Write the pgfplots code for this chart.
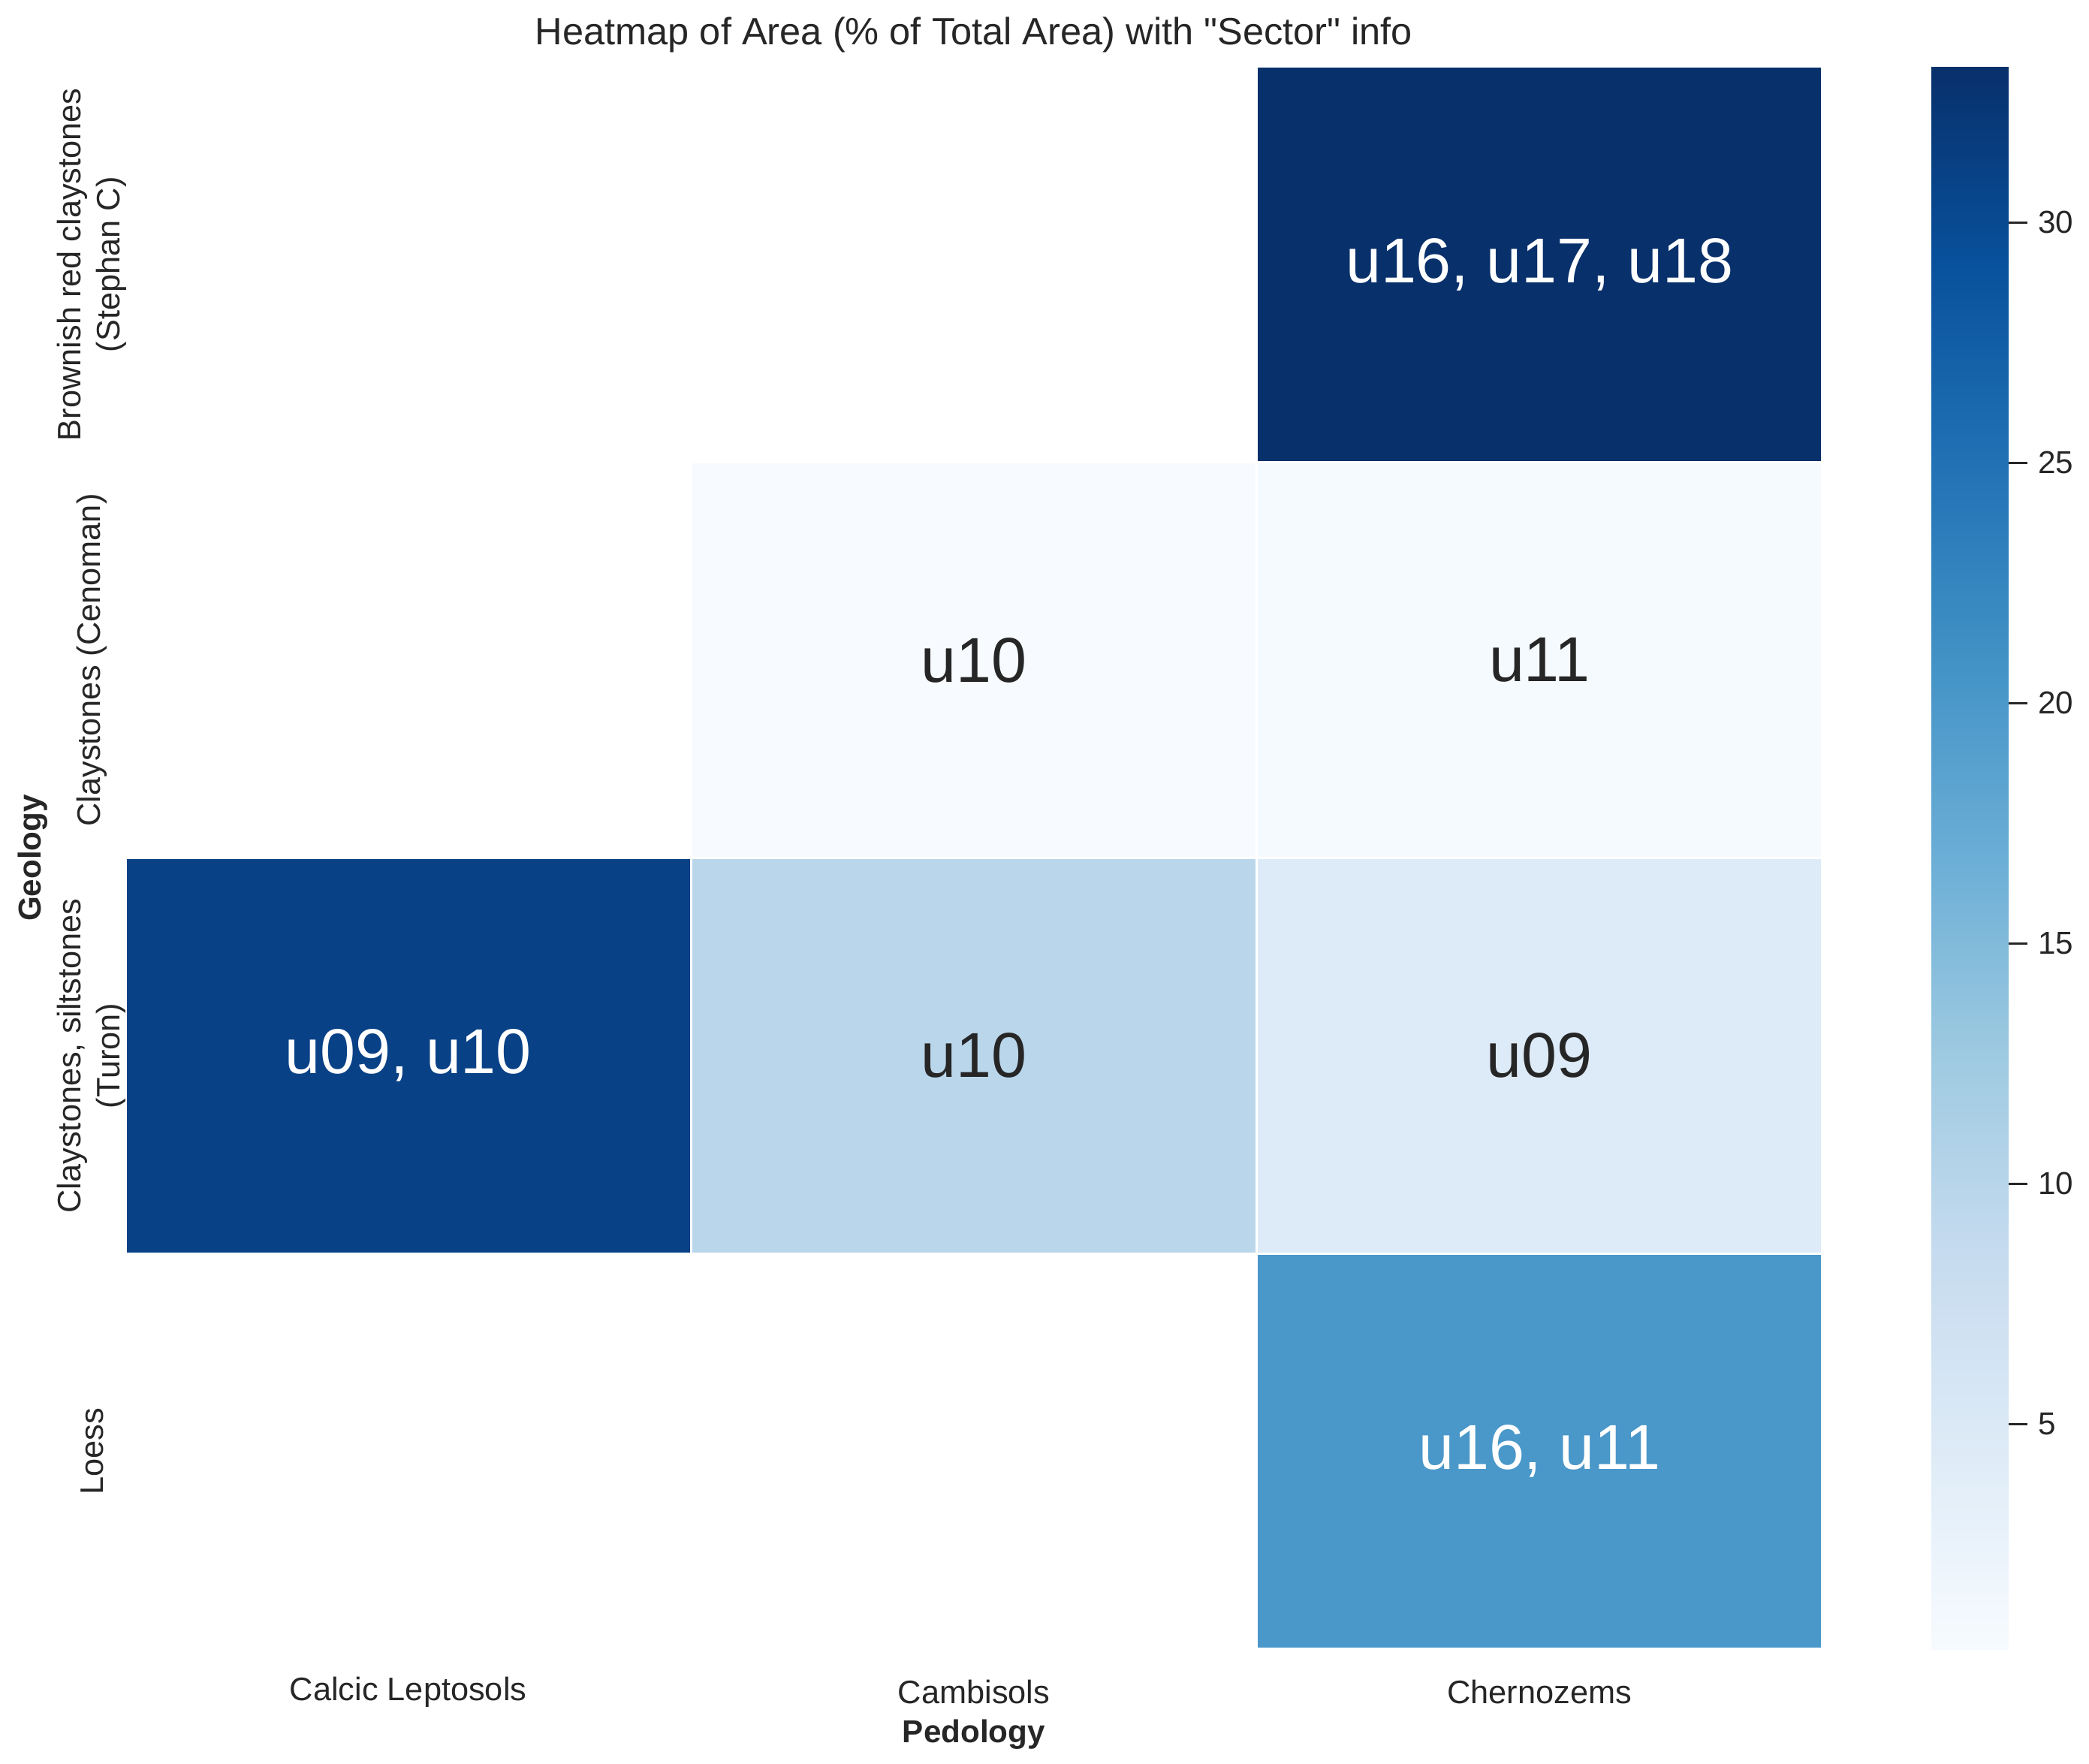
\documentclass[border=0pt]{standalone}
\usepackage{pgfplots}
\pgfplotsset{compat=1.18}
\usepgfplotslibrary{patchplots}
\usepackage{fontspec}
\setmainfont{Liberation Sans}[Ligatures=TeXOff]
\definecolor{txt}{HTML}{262626}

\begin{document}
\begin{tikzpicture}
\begin{axis}[
    scale only axis,
    width=406.8pt, height=379.3pt,
    xmin=-0.5, xmax=2.5, ymin=-0.5, ymax=3.5,
    y dir=reverse,
    axis line style={draw=none},
    major tick length=0pt,
    font=\fontsize{7.8}{9.4}\selectfont,
    every tick label/.append style={color=txt},
    xtick={0,1,2},
    xticklabels={Calcic Leptosols, Cambisols, Chernozems},
    xticklabel style={anchor=center, yshift=-10.3pt},
    ytick={0,1,2,3},
    yticklabels={{{Brownish red claystones\\(Stephan C)}}, {{Claystones (Cenoman)}}, {{Claystones, siltstones\\(Turon)}}, {{Loess}}},
    yticklabel style={rotate=90, anchor=center, align=center, yshift=8pt},
    xlabel={\bfseries Pedology},
    ylabel={\bfseries Geology},
    xlabel style={at={(axis description cs:0.5,-0.0541)}, anchor=center, color=txt, font=\fontsize{7.6}{9}\selectfont},
    ylabel style={at={(axis description cs:-0.0544,0.5)}, anchor=center, color=txt, font=\fontsize{7.6}{9}\selectfont},
    title={Heatmap of Area (\% of Total Area) with "Sector" info},
    every axis title/.style={at={(axis description cs:0.5,1)}, anchor=center, yshift=7.7pt, font=\fontsize{9.1}{11}\selectfont, color=txt},
    colormap={blues}{rgb255=(247,251,255) rgb255=(222,235,247) rgb255=(198,219,239) rgb255=(158,202,225) rgb255=(107,174,214) rgb255=(66,146,198) rgb255=(33,113,181) rgb255=(8,81,156) rgb255=(8,48,107)},
    point meta min=0.32, point meta max=33.24,
    colorbar,
    colorbar/width=18.5pt,
    colorbar style={
        at={(parent axis.north east)}, anchor=north west, xshift=17.6pt,
        scale only axis,
        width=18.5pt, height=379.3pt,
        ytick={5,10,15,20,25,30},
        ytick pos=right,
        yticklabel pos=right,
        tick align=outside,
        major tick length=4.5pt,
        tick style={color=txt, line width=0.5pt},
        axis line style={draw=none},
        font=\fontsize{7.6}{9}\selectfont,
        yticklabel style={color=txt, xshift=-1pt},
        /pgf/number format/assume math mode=true,
    },
]
% one rectangle per cell: corners and the cell's value
\addplot[patch, patch type=rectangle, shader=faceted, faceted color=white, line width=0.55pt, point meta=explicit]
table[meta=c] {
x y c
1.5 -0.5 33.24
2.5 -0.5 33.24
2.5 0.5 33.24
1.5 0.5 33.24
0.5 0.5 0.32
1.5 0.5 0.32
1.5 1.5 0.32
0.5 1.5 0.32
1.5 0.5 0.7
2.5 0.5 0.7
2.5 1.5 0.7
1.5 1.5 0.7
-0.5 1.5 31.1
0.5 1.5 31.1
0.5 2.5 31.1
-0.5 2.5 31.1
0.5 1.5 9.8
1.5 1.5 9.8
1.5 2.5 9.8
0.5 2.5 9.8
1.5 1.5 4.6
2.5 1.5 4.6
2.5 2.5 4.6
1.5 2.5 4.6
1.5 2.5 20.1
2.5 2.5 20.1
2.5 3.5 20.1
1.5 3.5 20.1
};
% labels on dark cells
\addplot[draw=none, mark=none, nodes near coords, point meta=explicit symbolic,
    nodes near coords style={anchor=center, color=white, font=\fontsize{15.2}{18}\selectfont}]
table[meta=t, col sep=semicolon] {
x;y;t
2;0;u16, u17, u18
0;2;u09, u10
2;3;u16, u11
};
% labels on light cells
\addplot[draw=none, mark=none, nodes near coords, point meta=explicit symbolic,
    nodes near coords style={anchor=center, color=txt, font=\fontsize{15.2}{18}\selectfont}]
table[meta=t, col sep=semicolon] {
x;y;t
1;1;u10
2;1;u11
1;2;u10
2;2;u09
};
\coordinate (ll) at (axis cs:-0.5,3.5);
\end{axis}
\path[use as bounding box] (ll) ++(-30.06pt,-26.64pt) rectangle ++(500.76pt,421.92pt);
\end{tikzpicture}
\end{document}
